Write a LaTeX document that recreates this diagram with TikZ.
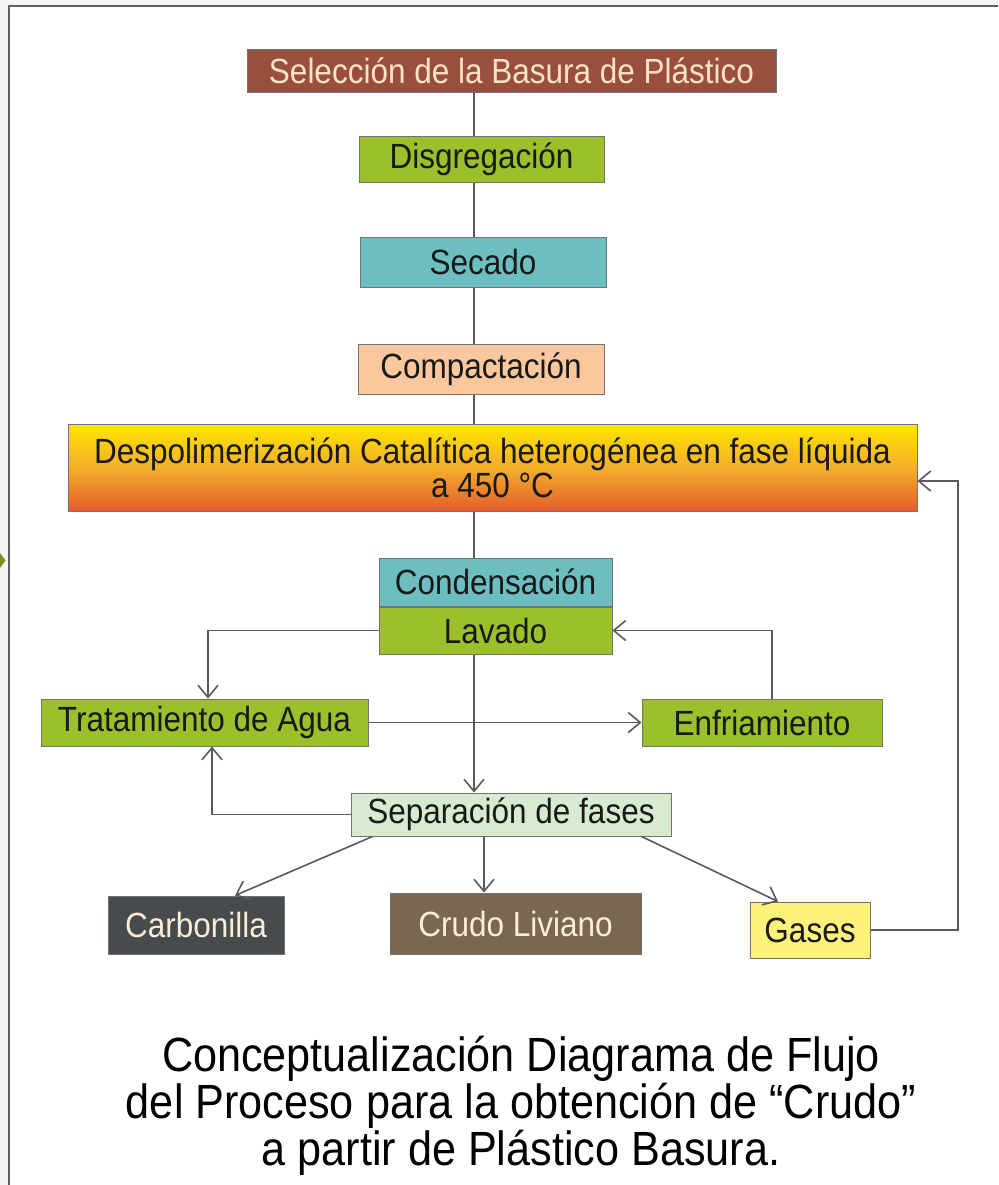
\documentclass[tikz,border=0pt]{standalone}
\usepackage{fontspec}
\setmainfont[FakeStretch=0.9]{Liberation Sans}
\usetikzlibrary{arrows.meta,positioning}

\definecolor{ladrillo}{HTML}{9A4E3E}
\definecolor{crema}{HTML}{FBE4C2}
\definecolor{verde}{HTML}{9BC02C}
\definecolor{turquesa}{HTML}{6CBEC0}
\definecolor{durazno}{HTML}{FBC89E}
\definecolor{amarillo}{HTML}{FFE600}
\definecolor{naranja}{HTML}{E25E2C}
\definecolor{ambar}{HTML}{F4AE2C}
\definecolor{verdeclaro}{HTML}{D6EBCF}
\definecolor{pizarra}{HTML}{464B4D}
\definecolor{cafe}{HTML}{7B6651}
\definecolor{limon}{HTML}{FFF27A}
\definecolor{linea}{HTML}{5A5A5A}

\begin{document}
\begin{tikzpicture}[
        x=0.5pt, y=-0.5pt,
        font=\fontsize{17.5}{19}\selectfont,
        block/.style={rectangle, draw=black!55, line width=0.5pt, inner sep=0pt, text=black!90, align=center},
        line/.style={draw=linea, line width=0.8pt},
        arrow/.style={line, -{Straight Barb[length=6pt,width=10pt]}}
    ]
    \useasboundingbox (0,0) rectangle (998,1185);

    % page edge
    \fill[gray!8] (0,0) rectangle (998,5);
    \fill[gray!8] (0,0) rectangle (8,1185);
    \draw[gray!75!black, line width=1pt] (8.5,1185) -- (8.5,5.5) -- (998,5.5);
    \fill[verde!75!black] (0,553) -- (5.5,560.5) -- (0,568) -- cycle;

    % nodes
    \node[block, fill=ladrillo, text=crema, minimum width=264.5pt, minimum height=21.5pt] (seleccion) at (511.5,70.5) {Selección de la Basura de Plástico};
    \node[block, fill=verde, minimum width=122.5pt, minimum height=23pt] (disgregacion) at (481.5,159) {Disgregación};
    \node[block, fill=turquesa, minimum width=123pt, minimum height=25pt] (secado) at (483,262) {Secado};
    \node[block, fill=durazno, minimum width=123pt, minimum height=25pt] (compactacion) at (481,369) {Compactación};
    \node[block, top color=amarillo, bottom color=naranja, middle color=ambar, minimum width=424.5pt, minimum height=43.5pt, font=\fontsize{17.5}{17}\selectfont] (despol) at (492.5,467.5) {Despolimerización Catalítica heterogénea en fase líquida\\a 450 °C};
    \node[block, fill=turquesa, minimum width=116.5pt, minimum height=24pt] (condensacion) at (495.5,582) {Condensación};
    \node[block, fill=verde, minimum width=116.5pt, minimum height=23.5pt, below=0pt of condensacion] (lavado) {Lavado};
    \node[block, fill=verde, minimum width=163.5pt, minimum height=23.5pt] (tratamiento) at (204.5,722.5) {Tratamiento de Agua};
    \node[block, fill=verde, minimum width=120pt, minimum height=23.5pt] (enfriamiento) at (762,722.5) {Enfriamiento};
    \node[block, fill=verdeclaro, minimum width=160pt, minimum height=21.5pt] (separacion) at (511,814.5) {Separación de fases};
    \node[block, fill=pizarra, text=crema!70!white, minimum width=88pt, minimum height=29pt] (carbonilla) at (196,925) {Carbonilla};
    \node[block, fill=cafe, text=crema!60!white, minimum width=125.5pt, minimum height=30.5pt] (crudo) at (515.5,923.5) {Crudo Liviano};
    \node[block, fill=limon, minimum width=60pt, minimum height=28pt] (gases) at (810,930) {Gases};

    \node[align=center, font=\fontsize{24}{23.5}\selectfont] (titulo) at (521,1106) {Conceptualización Diagrama de Flujo\\del Proceso para la obtención de “Crudo”\\a partir de Plástico Basura.};

    \coordinate (eje) at (474,0);
    \coordinate (retorno) at (958,0);
    \coordinate (entrada) at ([yshift=-6.75pt]despol.east);

    % lines
    \path[line] (seleccion.south -| eje) -- (disgregacion.north -| eje);
    \path[line] (disgregacion.south -| eje) -- (secado.north -| eje);
    \path[line] (secado.south -| eje) -- (compactacion.north -| eje);
    \path[line] (compactacion.south -| eje) -- (despol.north -| eje);
    \path[line] (despol.south -| eje) -- (condensacion.north -| eje);
    \path[arrow] (lavado.south -| eje) -- (separacion.north -| eje);
    \path[arrow] (lavado.west) -| ([xshift=1.75pt]tratamiento.north);
    \path[arrow] (tratamiento.east) -- (enfriamiento.west);
    \path[arrow] ([xshift=5pt]enfriamiento.north) |- (lavado.east);
    \path[arrow] (separacion.west) -| ([xshift=3.75pt]tratamiento.south);
    \path[arrow] ([xshift=11pt]separacion.south west) -- ([xshift=19.5pt]carbonilla.north);
    \path[arrow] ([xshift=-13.5pt]separacion.south) -- ([xshift=-15.75pt]crudo.north);
    \path[arrow] ([xshift=-15pt]separacion.south east) -- ([xshift=-16pt]gases.north);
    \path[arrow] (gases.east) -- (gases.east -| retorno) -- (entrada -| retorno) -- (entrada);

    \end{tikzpicture}
\end{document}
